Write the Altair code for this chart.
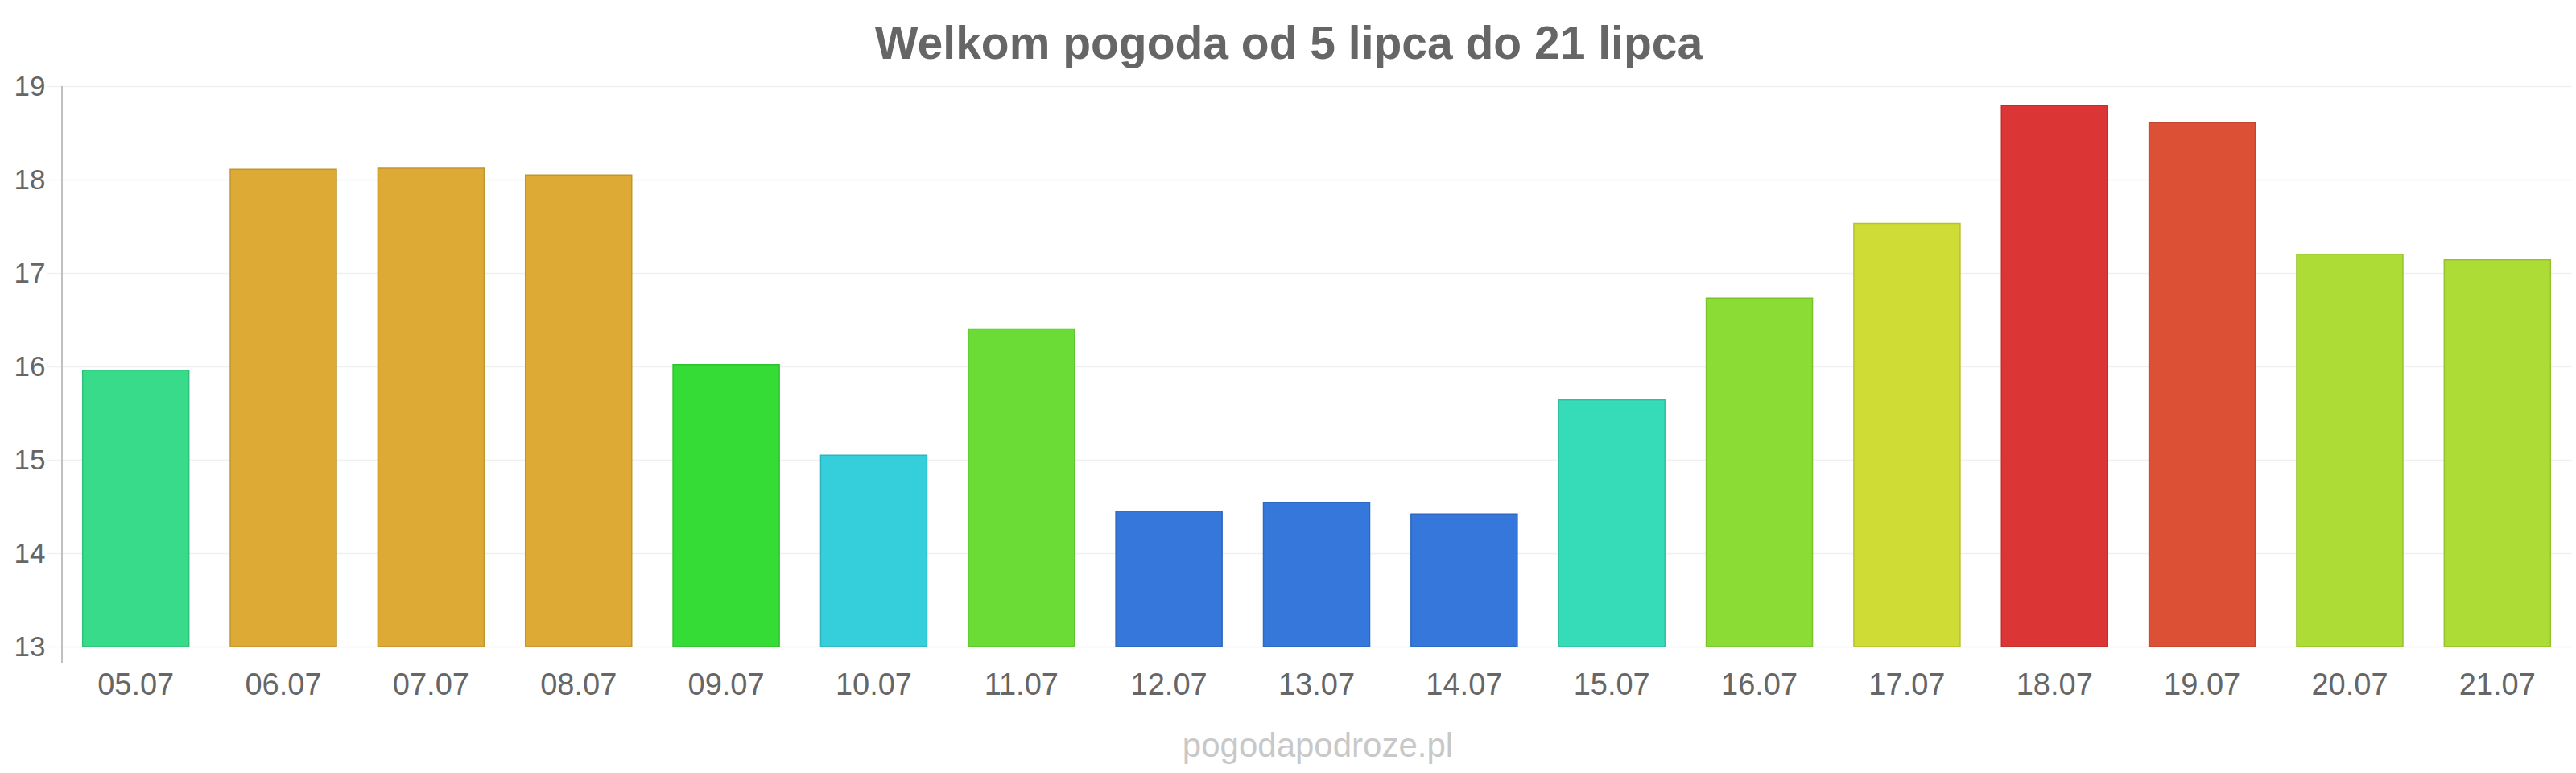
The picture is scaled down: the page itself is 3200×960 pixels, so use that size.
import altair as alt
import pandas as pd

dates = ["05.07", "06.07", "07.07", "08.07", "09.07", "10.07", "11.07", "12.07", "13.07",
         "14.07", "15.07", "16.07", "17.07", "18.07", "19.07", "20.07", "21.07"]
temps = [15.96, 18.11, 18.12, 18.05, 16.02, 15.05, 16.40, 14.45, 14.54,
         14.42, 15.64, 16.73, 17.53, 18.79, 18.61, 17.20, 17.14]
colors = ["#38db8a", "#dcaa35", "#dcaa35", "#dcaa35", "#36dc36", "#35cedb", "#6bdc36", "#3577db",
          "#3577db", "#3577db", "#36dbb8", "#8bdc35", "#cfdc35", "#dc3535", "#dc5035", "#acdc35", "#acdc35"]
y_ticks = [13, 14, 15, 16, 17, 18, 19]
title_text = "Welkom pogoda od 5 lipca do 21 lipca"
credit_text = "pogodapodroze.pl"


def darker(h, f=0.88):
    h = h.lstrip("#")
    r, g, b = (int(h[i:i + 2], 16) for i in (0, 2, 4))
    return "#%02x%02x%02x" % (int(r * f), int(g * f), int(b * f))


df = pd.DataFrame({
    "date": dates,
    "temp": temps,
    "color": colors,
    "stroke": [darker(c) for c in colors],
    "base": [13] * len(dates),
})

W, H = 3117, 696
FONT = "Liberation Sans"

x_enc = alt.X("date:N", sort=dates, title=None,
              scale=alt.Scale(paddingInner=0.28, paddingOuter=0.14),
              axis=alt.Axis(domain=False, ticks=False, labelFontSize=38, labelColor="#666666",
                            labelFont=FONT, labelPadding=29, labelAngle=0, grid=False))
y_enc = alt.Y("temp:Q", title=None,
              scale=alt.Scale(domain=[13, 19], nice=False, zero=False),
              axis=alt.Axis(values=y_ticks, domain=False, tickSize=19, tickColor="#f0f0f0",
                            tickWidth=1.5, gridColor="#f0f0f0", gridWidth=1.5,
                            labelFontSize=35, labelColor="#666666", labelFont=FONT,
                            labelPadding=2, format="d"))

bars = alt.Chart(df).mark_bar(strokeWidth=1.5).encode(
    x=x_enc,
    y=y_enc,
    y2="base:Q",
    color=alt.Color("color:N", scale=None),
    stroke=alt.Stroke("stroke:N", scale=None),
)

axis_line = alt.Chart(df).mark_rule(color="#c0c0c0", strokeWidth=2).encode(
    x=alt.value(0), y=alt.value(0), y2=alt.value(H + 20)
)

title = alt.Chart(pd.DataFrame({"t": [title_text]})).mark_text(
    font=FONT, fontSize=57, fontWeight="bold", color="#666666", align="center", baseline="alphabetic"
).encode(text="t:N", x=alt.value(1601 - 77), y=alt.value(73 - 107))

credit = alt.Chart(pd.DataFrame({"t": [credit_text]})).mark_text(
    font=FONT, fontSize=42, color="#c8c8c8", align="center", baseline="alphabetic"
).encode(text="t:N", x=alt.value(1637 - 77), y=alt.value(940 - 107))

chart = alt.layer(bars, axis_line, title, credit).properties(
    width=W, height=H,
    autosize=alt.AutoSizeParams(type="none"),
    padding={"left": 77, "top": 107, "right": 6, "bottom": 157},
    background="white",
).configure_view(stroke=None)

chart.save("out.html", embed_options={"renderer": "svg", "actions": False})
